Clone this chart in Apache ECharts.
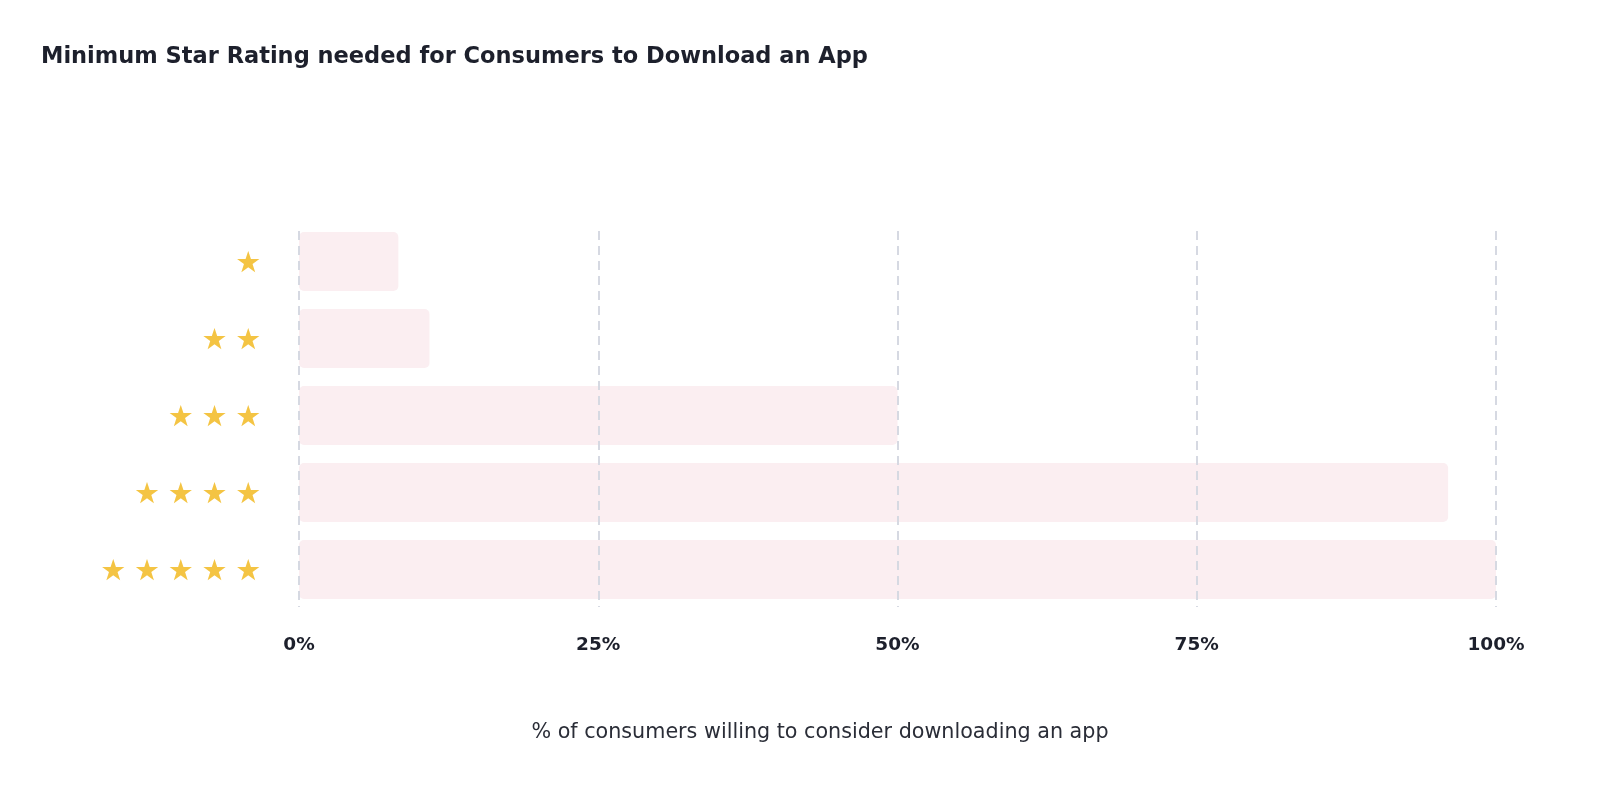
<!DOCTYPE html>
<html>
<head>
<meta charset="utf-8">
<script src="https://cdn.jsdelivr.net/npm/echarts@6/dist/echarts.min.js"></script>
<style>html,body{margin:0;padding:0;background:#fff;}#c{width:1600px;height:789px;}</style>
</head>
<body>
<div id="c"></div>
<script>
const titleText = 'Minimum Star Rating needed for Consumers to Download an App';
const axisTitle = '% of consumers willing to consider downloading an app';
const categories = ['★', '★★', '★★★', '★★★★', '★★★★★'];
const values = [8.3, 10.9, 50, 96, 100];
const tickValues = [0, 25, 50, 75, 100];

const chart = echarts.init(document.getElementById('c'));
const L = 299, R = 1600 - 1496;
chart.setOption({
  backgroundColor: '#ffffff',
  animation: false,
  title: {
    text: titleText, left: 36, top: 41,
    textStyle: {fontFamily: 'DejaVu Sans', fontWeight: 'bold', fontSize: 22.5, color: '#1d202c'}
  },
  graphic: [{
    type: 'text', x: 820, y: 733,
    style: {text: axisTitle, textAlign: 'center', textVerticalAlign: 'middle',
      font: '20.7px "DejaVu Sans"', fill: '#2a2d37'}
  }],
  grid: [
    {left: L, right: R, top: 231, bottom: 182},
    {left: L, right: R, top: 223, bottom: 181}
  ],
  xAxis: [
    {type: 'value', gridIndex: 0, min: 0, max: 100, interval: 25, z: 5,
      axisLine: {show: false}, axisTick: {show: false},
      axisLabel: {margin: 29, formatter: v => tickValues.includes(v) ? v + '%' : '',
        fontFamily: 'DejaVu Sans', fontWeight: 'bold', fontSize: 18.5, color: '#1d202c'},
      splitLine: {show: true, lineStyle: {color: '#d6d9e2', width: 2, type: [9, 6]}}},
    {type: 'value', gridIndex: 1, min: 0, max: 100, show: false, splitLine: {show: false}}
  ],
  yAxis: [
    {type: 'value', gridIndex: 0, min: 0, max: 1, show: false, splitLine: {show: false}},
    {type: 'category', gridIndex: 1, data: categories, inverse: true,
      axisLine: {show: false}, axisTick: {show: false},
      axisLabel: {margin: 34,
        formatter: v => v.split('').map(() => '{s|★}').join(''),
        rich: {s: {color: '#F4C443', fontSize: 29, width: 33.7, align: 'center',
          fontFamily: 'DejaVu Sans', padding: [0, 0, -5, 0]}}}}
  ],
  series: [
    {type: 'line', xAxisIndex: 0, yAxisIndex: 0, data: [], silent: true},
    {type: 'bar', xAxisIndex: 1, yAxisIndex: 1, data: values, barWidth: 59,
      itemStyle: {color: '#FBEEF1', borderRadius: 5}}
  ]
});
</script>
</body>
</html>
